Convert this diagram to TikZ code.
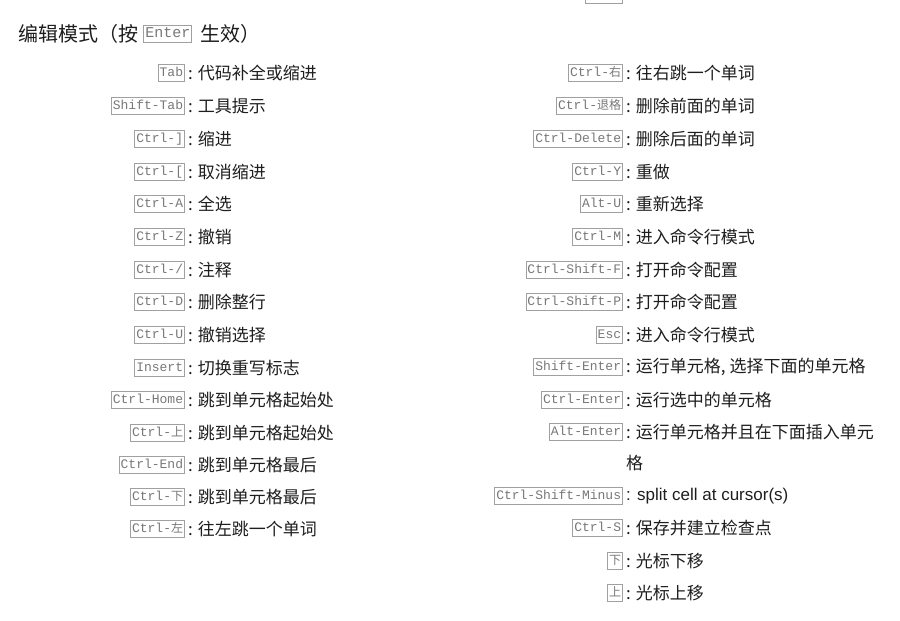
\documentclass[tikz,border=0pt]{standalone}
\usepackage{fontspec}
\setmainfont{Noto Sans CJK SC}
\newfontfamily\keyf{Liberation Mono}
\definecolor{keyc}{RGB}{120,120,120}
\definecolor{boxc}{RGB}{160,160,160}
\definecolor{txt}{RGB}{30,30,30}
\tikzset{
 kbox/.style={draw=boxc,line width=0.8pt,inner xsep=1.5pt,inner ysep=2pt,text=keyc,font=\keyf\fontsize{13}{13}\selectfont,text height=10pt,text depth=3pt,anchor=east},
 desc/.style={anchor=west,inner sep=0pt,text=txt,font=\fontsize{17}{17}\selectfont},
}
\newcommand{\krow}[5]{%
 \node[kbox] (k#5) at (#1,#2) {#3};
 \node[desc] (d#5) at ([xshift=3pt]k#5.east) {: #4};}
\begin{document}
\begin{tikzpicture}[x=1pt,y=-1pt]
\useasboundingbox[fill=white] (0,0) rectangle (900,621);
\draw[draw=boxc,line width=0.8pt] (585,-10) rectangle (622,3);
\node[anchor=west,inner sep=0pt,text=txt,font=\fontsize{20}{20}\selectfont] (t1) at (18,34) {编辑模式（按};
\node[kbox,anchor=west,font=\keyf\fontsize{15}{15}\selectfont] (tk) at ([xshift=5pt]t1.east) {Enter};
\node[anchor=west,inner sep=0pt,text=txt,font=\fontsize{20}{20}\selectfont] (t2) at ([xshift=8pt]tk.east) {生效）};
\krow{185}{73}{Tab}{代码补全或缩进}{a1}
\krow{185}{106}{Shift-Tab}{工具提示}{a2}
\krow{185}{139}{Ctrl-]}{缩进}{a3}
\krow{185}{172}{Ctrl-[}{取消缩进}{a4}
\krow{185}{204}{Ctrl-A}{全选}{a5}
\krow{185}{237}{Ctrl-Z}{撤销}{a6}
\krow{185}{270}{Ctrl-/}{注释}{a7}
\krow{185}{302}{Ctrl-D}{删除整行}{a8}
\krow{185}{335}{Ctrl-U}{撤销选择}{a9}
\krow{185}{368}{Insert}{切换重写标志}{a10}
\krow{185}{400}{Ctrl-Home}{跳到单元格起始处}{a11}
\krow{185}{433}{Ctrl-{\rmfamily\fontsize{12}{12}\selectfont 上}}{跳到单元格起始处}{a12}
\krow{185}{465}{Ctrl-End}{跳到单元格最后}{a13}
\krow{185}{497}{Ctrl-{\rmfamily\fontsize{12}{12}\selectfont 下}}{跳到单元格最后}{a14}
\krow{185}{529}{Ctrl-{\rmfamily\fontsize{12}{12}\selectfont 左}}{往左跳一个单词}{a15}
\krow{623}{73}{Ctrl-{\rmfamily\fontsize{12}{12}\selectfont 右}}{往右跳一个单词}{b1}
\krow{623}{106}{Ctrl-{\rmfamily\fontsize{12}{12}\selectfont 退格}}{删除前面的单词}{b2}
\krow{623}{139}{Ctrl-Delete}{删除后面的单词}{b3}
\krow{623}{172}{Ctrl-Y}{重做}{b4}
\krow{623}{204}{Alt-U}{重新选择}{b5}
\krow{623}{237}{Ctrl-M}{进入命令行模式}{b6}
\krow{623}{270}{Ctrl-Shift-F}{打开命令配置}{b7}
\krow{623}{302}{Ctrl-Shift-P}{打开命令配置}{b8}
\krow{623}{335}{Esc}{进入命令行模式}{b9}
\krow{623}{367}{Shift-Enter}{运行单元格, 选择下面的单元格}{b10}
\krow{623}{400}{Ctrl-Enter}{运行选中的单元格}{b11}
\krow{623}{432}{Alt-Enter}{运行单元格并且在下面插入单元}{b12}
\node[desc] (b12b) at (626,463) {格};
\node[kbox] (kb13) at (623,496) {Ctrl-Shift-Minus};
\node[desc,font=\fontfamily{}\setmainfont{Liberation Sans}\fontsize{17}{17}\selectfont] (db13) at ([xshift=3pt]kb13.east) {: split cell at cursor(s)};
\krow{623}{528}{Ctrl-S}{保存并建立检查点}{b14}
\krow{623}{561}{{\rmfamily\fontsize{12}{12}\selectfont 下}}{光标下移}{b15}
\krow{623}{593}{{\rmfamily\fontsize{12}{12}\selectfont 上}}{光标上移}{b16}
\end{tikzpicture}
\end{document}
